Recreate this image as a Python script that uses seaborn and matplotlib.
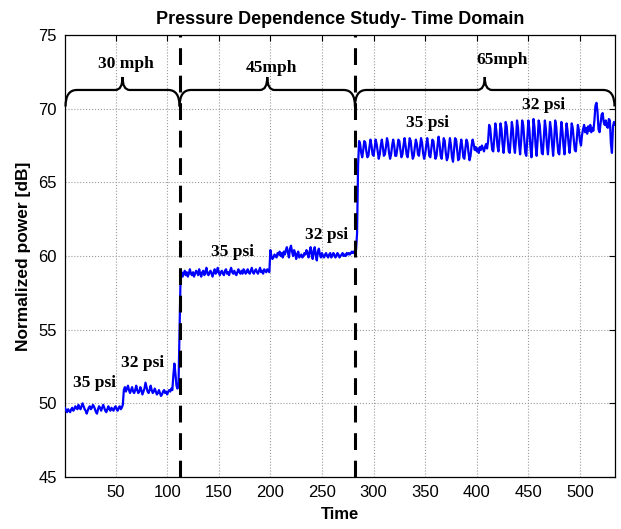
import numpy as np
import pandas as pd
import matplotlib
matplotlib.use("Agg")
import matplotlib.pyplot as plt
from matplotlib.path import Path
from matplotlib.patches import PathPatch
import seaborn as sns

# ---------------- data ----------------
# 30 mph, 35 psi  (t = 1..57)
seg_30mph_35psi = [49.7, 49.5, 49.4, 49.6, 49.5, 49.4, 49.6, 49.7, 49.5, 49.6,
                   49.8, 49.7, 49.6, 49.9, 49.7, 49.6, 49.8, 50.0, 49.8, 49.6,
                   49.5, 49.3, 49.5, 49.7, 49.8, 49.6, 49.7, 49.9, 49.8, 49.6,
                   49.4, 49.3, 49.6, 49.8, 49.7, 49.5, 49.7, 49.9, 49.7, 49.5,
                   49.4, 49.6, 49.8, 49.6, 49.5, 49.7, 49.6, 49.5, 49.7, 49.8,
                   49.6, 49.5, 49.7, 49.8, 49.6, 49.7, 49.9]
# 30 mph, 32 psi  (t = 58..111)
seg_30mph_32psi = [50.9, 51.1, 50.8, 51.0, 51.2, 50.9, 50.7, 50.9, 51.1, 50.8,
                   50.7, 50.9, 51.2, 50.9, 50.7, 50.8, 51.1, 50.9, 50.6, 50.8,
                   51.0, 51.4, 51.1, 50.8, 50.7, 50.9, 51.2, 50.9, 50.7, 50.8,
                   51.0, 50.8, 50.6, 50.7, 50.9, 50.7, 50.5, 50.6, 50.8, 50.9,
                   50.7, 50.8, 50.6, 50.8, 50.9, 50.8, 51.0, 50.9, 51.9, 52.7,
                   52.0, 51.2, 51.0, 51.3]
# 45 mph, 35 psi  (t = 112..199)
seg_45mph_35psi = [55.0, 58.7, 58.9, 58.6, 58.8, 59.0, 58.7, 58.9, 58.6, 58.8,
                   59.1, 58.8, 58.7, 58.9, 58.6, 58.8, 59.0, 58.9, 58.7, 59.1,
                   58.8, 58.6, 58.9, 59.0, 58.7, 58.9, 59.2, 58.8, 58.7, 58.9,
                   59.0, 58.8, 58.6, 58.9, 59.1, 58.8, 58.9, 59.2, 58.9, 58.7,
                   58.9, 59.0, 58.8, 58.7, 59.0, 59.1, 58.8, 58.9, 58.7, 59.0,
                   59.2, 58.9, 58.8, 59.0, 58.8, 58.7, 58.9, 59.1, 58.9, 58.8,
                   59.0, 58.8, 59.1, 59.0, 58.8, 58.9, 59.1, 58.9, 58.8, 59.0,
                   59.2, 58.9, 58.8, 59.0, 59.1, 58.9, 58.8, 59.0, 59.2, 58.9,
                   59.0, 58.8, 59.1, 59.0, 58.9, 59.1, 59.0, 58.9]
# 45 mph, 32 psi  (t = 200..283)
seg_45mph_32psi = [60.4, 60.0, 59.8, 59.9, 60.1, 60.0, 59.9, 60.2, 60.1, 60.3,
                   60.0, 60.2, 59.9, 60.3, 60.1, 60.4, 60.6, 60.2, 59.9, 60.5,
                   60.7, 60.3, 60.0, 60.4, 60.2, 59.8, 60.1, 60.3, 59.9, 60.0,
                   60.1, 59.9, 60.0, 60.2, 60.1, 60.4, 60.2, 59.9, 60.3, 60.6,
                   60.1, 59.8, 60.4, 60.6, 60.0, 59.7, 60.3, 60.5, 60.1, 59.9,
                   60.2, 60.0, 59.9, 60.1, 60.2, 60.0, 59.9, 60.1, 60.2, 59.9,
                   60.0, 60.2, 60.1, 59.9, 60.0, 60.2, 60.1, 59.9, 60.0, 60.1,
                   60.2, 60.0, 60.1, 60.0, 60.2, 60.1, 60.2, 60.1, 60.2, 60.3,
                   60.2, 60.3, 60.2, 60.4]
# 65 mph, 35 psi  (t = 284..402)
seg_65mph_35psi = [61.5, 66.2,
                   67.8, 67.6, 67.0, 66.7, 67.2,
                   67.8, 67.7, 67.1, 66.7, 66.8, 67.4,
                   67.9, 67.5, 66.9, 66.8, 67.3,
                   67.9, 67.6, 67.1, 66.6, 66.9, 67.5,
                   67.9, 67.4, 66.8, 66.9, 67.4,
                   68.0, 67.7, 67.0, 66.6, 66.9, 67.5,
                   67.9, 67.5, 66.8, 66.8, 67.3,
                   67.9, 67.8, 67.2, 66.7, 66.9, 67.5,
                   68.0, 67.5, 66.9, 66.7, 67.3,
                   68.0, 67.8, 67.1, 66.6, 66.8, 67.4,
                   67.9, 67.6, 66.9, 66.8, 67.4,
                   68.0, 67.7, 67.0, 66.6, 66.9, 67.5,
                   68.0, 67.5, 66.8, 66.7, 67.3,
                   67.9, 67.8, 67.1, 66.6, 66.8, 67.5,
                   68.1, 67.6, 66.8, 66.6, 67.3,
                   68.0, 67.8, 67.0, 66.5, 66.7, 67.4,
                   68.0, 67.5, 66.7, 66.4, 67.2,
                   68.0, 67.9, 67.2, 66.5, 66.6, 67.4,
                   67.9, 67.4, 66.7, 66.6, 67.3,
                   67.9, 67.7, 67.0, 66.5, 66.8, 67.5,
                   67.9, 67.6, 67.2, 67.4, 67.1, 67.3, 67.0]
# 65 mph, 32 psi  (t = 403..534)
seg_65mph_32psi = [67.4, 67.2, 67.5, 67.3, 67.1, 67.4, 67.6, 67.3, 67.8,
                   68.9, 68.7, 67.9, 67.2, 67.1, 68.0,
                   69.0, 68.5, 67.5, 67.1, 67.9,
                   69.0, 68.6, 67.6, 67.0, 67.8,
                   69.1, 68.8, 67.9, 67.1, 67.0, 68.0,
                   69.1, 68.6, 67.5, 67.0, 67.9,
                   69.2, 68.7, 67.6, 66.9, 67.8,
                   69.2, 68.9, 67.9, 67.0, 66.8, 68.0,
                   69.2, 68.6, 67.4, 66.7, 67.8,
                   69.3, 68.7, 67.5, 66.8, 67.9,
                   69.2, 68.9, 67.9, 67.0, 66.9, 68.1,
                   69.2, 68.6, 67.5, 66.9, 67.9,
                   69.1, 68.6, 67.6, 66.8, 67.8,
                   69.2, 68.8, 67.8, 67.0, 66.9, 68.0,
                   69.1, 68.5, 67.5, 66.9, 67.9,
                   69.0, 68.5, 67.6, 67.0, 67.9,
                   69.0, 68.7, 67.9, 67.2, 67.1, 68.0,
                   68.9, 68.5, 67.8, 67.5, 68.2,
                   68.6, 68.9, 68.4, 68.7, 68.3, 68.8, 68.5, 68.9, 68.4, 68.7,
                   68.5, 69.2, 70.2, 70.4, 69.8, 68.6, 68.4, 69.0, 69.6, 69.7,
                   69.1, 68.9, 69.2, 68.8, 68.7, 69.3, 69.2, 67.6, 67.0, 68.8,
                   69.1, 68.9]

speed_labels = ["30 mph", "45mph", "65mph"]
speed_change_times = [112, 282]
pressure_labels = ["35 psi", "32 psi", "35 psi", "32 psi", "35 psi", "32 psi"]
x_ticks = [50, 100, 150, 200, 250, 300, 350, 400, 450, 500]
y_ticks = [45, 50, 55, 60, 65, 70, 75]

power = (seg_30mph_35psi + seg_30mph_32psi + seg_45mph_35psi +
         seg_45mph_32psi + seg_65mph_35psi + seg_65mph_32psi)
time = np.arange(1, len(power) + 1)
df = pd.DataFrame({"Time": time, "Power": power})

# ---------------- figure ----------------
sns.set_style("white")
plt.rcParams["font.family"] = ["Liberation Sans", "DejaVu Sans"]
plt.rcParams["text.color"] = "black"
plt.rcParams["axes.labelcolor"] = "black"

fig = plt.figure(figsize=(6.21, 5.29), dpi=100)
ax = fig.add_axes([0.1047, 0.0983, 0.8857, 0.8355])

sns.lineplot(data=df, x="Time", y="Power", ax=ax, color="#0000ff",
             linewidth=1.6, sort=False, zorder=3)

xmin, xmax = 1, 534
ax.set_xlim(xmin, xmax)
ax.set_ylim(45, 75)
ax.set_xticks(x_ticks)
ax.set_yticks(y_ticks)
ax.tick_params(direction="in", top=True, right=True, length=4, width=0.8,
               labelsize=12, colors="black", pad=6)
for sp in ax.spines.values():
    sp.set_color("black")
    sp.set_linewidth(0.9)
ax.grid(True, linestyle=":", color="#9a9a9a", linewidth=0.8)
ax.set_axisbelow(True)

ax.set_title("Pressure Dependence Study- Time Domain", fontsize=13,
             fontweight="bold", pad=8, color="black")
ax.set_xlabel("Time", fontsize=12, fontweight="bold", labelpad=5)
ax.set_ylabel("Normalized power [dB]", fontsize=12.5, fontweight="bold",
              labelpad=5)

# vertical dashed separators
for xv in speed_change_times:
    ax.axvline(xv, color="black", linewidth=2.2, linestyle=(0, (5.5, 3.5)),
               zorder=4)

# braces
def brace(x0, x1, yb=70.15, yf=71.27, yt=72.15, w=11, wm=7):
    xm = (x0 + x1) / 2
    verts = [(x0, yb), (x0, yf), (x0 + w, yf),
             (xm - wm, yf), (xm, yf), (xm, yt),
             (xm, yf), (xm + wm, yf),
             (x1 - w, yf), (x1, yf), (x1, yb)]
    codes = [Path.MOVETO, Path.CURVE3, Path.CURVE3,
             Path.LINETO, Path.CURVE3, Path.CURVE3,
             Path.CURVE3, Path.CURVE3,
             Path.LINETO, Path.CURVE3, Path.CURVE3]
    ax.add_patch(PathPatch(Path(verts, codes), facecolor="none",
                           edgecolor="black", linewidth=1.6, zorder=5,
                           clip_on=False))
    return xm

edges = [xmin + 0.5, speed_change_times[0], speed_change_times[1], xmax - 0.5]
speed_text_pos = [(60, 73.0), (201, 72.75), (425, 73.3)]
for i, lab in enumerate(speed_labels):
    brace(edges[i], edges[i + 1])
    ax.text(*speed_text_pos[i], lab, ha="center", va="center", fontsize=12.5,
            fontweight="bold", family="Liberation Serif", color="black",
            zorder=6)

psi_text_pos = [(30, 51.35), (76, 52.75), (163, 60.25), (254, 61.4),
                (352, 69.0), (465, 70.25)]
for lab, (xp, yp) in zip(pressure_labels, psi_text_pos):
    ax.text(xp, yp, lab, ha="center", va="center", fontsize=12.5,
            fontweight="bold", family="Liberation Serif", color="black",
            zorder=6)

fig.savefig("out.png", dpi=100, facecolor="white")
